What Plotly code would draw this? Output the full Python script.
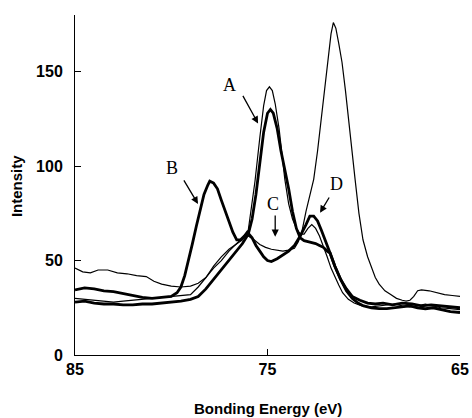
import plotly.graph_objects as go

# Thin curve with the large peak near 71.6 eV
e_t1 = [85, 84.6, 84.2, 83.8, 83.3, 82.8, 82.3, 81.8, 81.3, 80.9, 80.5, 80.0, 79.5, 79.0, 78.6, 78.2,
        77.8, 77.4, 77.0, 76.6, 76.3, 76.0, 75.7, 75.4, 75.1, 74.8, 74.5, 74.2, 73.9, 73.6, 73.4, 73.2,
        73.0, 72.8, 72.6, 72.4, 72.2, 72.0, 71.85, 71.7, 71.58, 71.45, 71.3, 71.13, 70.95, 70.8, 70.6,
        70.45, 70.25, 70.04, 69.8, 69.6, 69.4, 69.2, 68.9, 68.6, 68.3, 68.0, 67.8, 67.6, 67.4, 67.2,
        67.0, 66.6, 66.2, 65.8, 65.4, 65.0]
i_t1 = [46, 44, 43.5, 45, 45, 43.5, 43, 42, 41.5, 39, 37.5, 36.5, 36, 36.5, 38, 41,
        46, 50, 55, 59, 62, 63, 61, 58.5, 57, 56, 55.5, 55, 55.5, 56.5, 60, 66,
        76, 85, 93, 108, 125, 142, 158, 170, 176, 173, 165, 155, 140, 125, 107,
        93, 75, 61, 52, 46, 41, 37.5, 34, 32, 30, 29, 28.5, 29, 31, 34,
        34.5, 34, 33, 32, 31.5, 31]

# Thin curve with peak A (~142)
e_a2 = [85, 84.5, 84, 83.5, 83, 82.5, 82, 81.5, 81, 80.5, 80, 79.5, 79.0, 78.6, 78.2, 77.8, 77.4,
        77.0, 76.6, 76.3, 76.0, 75.8, 75.65, 75.4, 75.2, 75.05, 74.9, 74.75, 74.6, 74.4, 74.2, 74.1,
        73.9, 73.7, 73.5, 73.3, 73.1, 72.9, 72.7, 72.5, 72.3, 72.1, 71.9, 71.7, 71.5, 71.3, 71.1,
        70.8, 70.5, 70.1, 69.6, 69.2, 68.8, 68.4, 68.0, 67.6, 67.2, 66.8, 66.4, 66.0, 65.5, 65.0]
i_a2 = [30, 29.5, 29, 28.5, 28, 28.5, 29, 29.5, 30, 30.5, 31, 31.5, 32, 36, 41, 47, 52,
        56, 59, 61, 66, 80, 92, 115, 132, 140, 142, 140, 133, 120, 102, 93,
        80, 72, 67, 64, 64, 67, 69, 67, 63, 58, 52, 46, 41, 37, 33,
        29.5, 27.5, 26, 25.5, 26, 26.5, 27, 26, 25.5, 26, 27, 26, 25, 24.5, 24]

# Thick curve with peak A (~130)
e_a = [85, 84.5, 84, 83.5, 83, 82.5, 82, 81.5, 81, 80.5, 80, 79.5, 79.0, 78.6, 78.2, 77.8, 77.4,
       77.0, 76.6, 76.3, 76.0, 75.8, 75.6, 75.4, 75.2, 75.0, 74.85, 74.7, 74.5, 74.3, 74.1, 73.9,
       73.7, 73.5, 73.3, 73.1, 72.9, 72.7, 72.5, 72.3, 72.1, 71.9, 71.75, 71.5, 71.2, 70.9, 70.6,
       70.3, 70.0, 69.6, 69.2, 68.8, 68.4, 68.0, 67.6, 67.2, 66.8, 66.4, 66.0, 65.5, 65.0]
i_a = [28, 28.5, 27.5, 27, 27, 26.5, 26.5, 27, 27, 27.5, 28, 28.5, 29.5, 31, 35, 40, 45,
       50, 55, 59, 64, 72, 85, 102, 118, 128, 130, 128, 120, 108, 98, 88,
       76, 67, 62, 60.5, 60, 59.5, 59, 58, 57, 55, 54, 47, 40, 34, 30,
       27.5, 26, 25, 24.5, 24.5, 25, 25.5, 26, 25, 24.5, 25, 24, 23, 22.5]

# Thick curve with peaks B and D
e_b = [85, 84.5, 84, 83.5, 83, 82.5, 82, 81.5, 81, 80.5, 80, 79.7, 79.5, 79.3, 79.1, 78.9, 78.7,
       78.5, 78.3, 78.1, 78.0, 77.8, 77.6, 77.4, 77.2, 77.0, 76.8, 76.6, 76.4, 76.2, 76.05, 75.8,
       75.6, 75.4, 75.2, 75.0, 74.8, 74.5, 74.2, 73.9, 73.6, 73.3, 73.0, 72.8, 72.6, 72.4, 72.2,
       72.0, 71.75, 71.5, 71.2, 70.9, 70.6, 70.2, 69.8, 69.4, 69.0, 68.5, 68.0, 67.5, 67.0, 66.5,
       66.0, 65.5, 65.0]
i_b = [34.5, 35.5, 35, 34, 33.5, 32.5, 31.5, 30.5, 30, 30.5, 31, 33, 36, 42, 50, 59, 68,
       77, 85, 90, 92, 91, 88, 82, 76, 70, 65, 61, 61, 63, 65, 62,
       58, 55, 52, 50, 49.5, 51, 53, 55, 58, 63, 69, 73.5, 73.5, 71, 66,
       61, 54, 47, 40, 35, 31, 29, 27.5, 27, 27.5, 26.5, 27.5, 27, 26, 26.5,
       26, 25.5, 25]

x_ticks = [85, 75, 65]
y_ticks = [0, 50, 100, 150]

labels = ["A", "B", "C", "D"]
label_pos = [(76.95, 143), (79.96, 99), (74.7, 80), (71.4, 90.5)]
arrow_tail = [(76.32, 138), (79.39, 93.2), (74.6, 74.7), (71.75, 84.2)]
arrow_head = [(75.49, 122.6), (78.61, 80), (74.6, 62.6), (72.27, 75.3)]

fig = go.Figure()
for ex, iy, w in [(e_t1, i_t1, 1.2), (e_a2, i_a2, 1.2), (e_a, i_a, 2.8), (e_b, i_b, 2.8)]:
    fig.add_trace(go.Scatter(x=ex, y=iy, mode="lines", line=dict(color="black", width=w),
                             showlegend=False, hoverinfo="skip"))

ann = []
for lab, (tx, ty) in zip(labels, label_pos):
    ann.append(dict(x=tx, y=ty, xref="x", yref="y", text=lab, showarrow=False,
                    font=dict(family="Liberation Serif", size=18, color="black")))
for (ax_, ay_), (hx, hy) in zip(arrow_tail, arrow_head):
    ann.append(dict(x=hx, y=hy, ax=ax_, ay=ay_, xref="x", yref="y", axref="x", ayref="y",
                    text="", showarrow=True, arrowhead=2, arrowsize=1.1, arrowwidth=1.3,
                    arrowcolor="black", standoff=0, startstandoff=0))
# axis titles (paper coords are relative to the plot area: x 75..460 px, y 15..355 px)
ann.append(dict(x=0.5, y=-0.156, xref="paper", yref="paper", xanchor="center",
                yanchor="middle", text="Bonding Energy (eV)", showarrow=False,
                font=dict(family="Liberation Sans", size=15, color="black", weight="bold")))
ann.append(dict(x=-0.153, y=0.497, xref="paper", yref="paper", xanchor="center",
                yanchor="middle", text="Intensity", textangle=-90, showarrow=False,
                font=dict(family="Liberation Sans", size=15, color="black", weight="bold")))

fig.update_layout(
    width=472, height=418,
    margin=dict(l=75, r=12, t=15, b=63),
    paper_bgcolor="white", plot_bgcolor="white",
    annotations=ann,
    xaxis=dict(range=[85, 65], tickvals=x_ticks, ticks="inside", ticklen=6, tickcolor="black",
               showline=True, linecolor="black", linewidth=1, showgrid=False, zeroline=False,
               automargin=False,
               tickfont=dict(family="Liberation Sans", size=16, color="black", weight="bold")),
    yaxis=dict(range=[0, 180], tickvals=y_ticks, ticks="inside", ticklen=6, tickcolor="black",
               showline=True, linecolor="black", linewidth=1, showgrid=False, zeroline=False,
               automargin=False, ticklabelstandoff=8,
               tickfont=dict(family="Liberation Sans", size=16, color="black", weight="bold")),
)
fig.write_html("out.html", config={"displayModeBar": False},
               post_script="document.body.style.margin='0px';")
